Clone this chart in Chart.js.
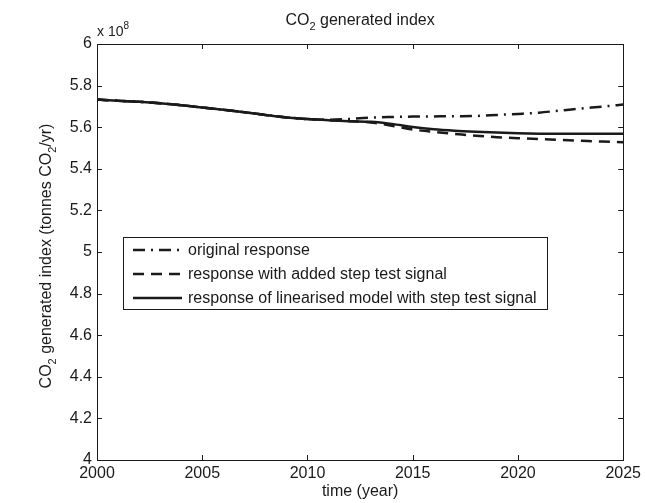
<!DOCTYPE html>
<html>
<head>
<meta charset="utf-8">
<title>CO2 generated index</title>
<script src="https://cdn.jsdelivr.net/npm/chart.js@4.4.1/dist/chart.umd.min.js"></script>
<style>
    html, body { margin: 0; padding: 0; background: #fff; }
    #co2-chart { display: block; }
</style>
</head>
<body>
<canvas id="co2-chart" width="645" height="503"></canvas>
<script>
// values in units of 10^8 tonnes CO2 / yr
const years = [2000, 2001, 2002, 2003, 2004, 2005, 2006, 2007, 2008, 2009, 2010, 2011, 2012,
    2013, 2014, 2015, 2016, 2017, 2018, 2019, 2020, 2021, 2022, 2023, 2024, 2025];
const originalResponse = [5.733, 5.727, 5.722, 5.715, 5.706, 5.695, 5.684, 5.672, 5.659, 5.647, 5.639, 5.636, 5.640,
    5.646, 5.649, 5.651, 5.652, 5.653, 5.654, 5.659, 5.664, 5.670, 5.680, 5.690, 5.699, 5.709];
const stepResponse = [5.733, 5.727, 5.722, 5.715, 5.706, 5.695, 5.684, 5.672, 5.659, 5.647, 5.639, 5.634, 5.629,
    5.623, 5.607, 5.589, 5.577, 5.568, 5.559, 5.552, 5.547, 5.543, 5.539, 5.535, 5.531, 5.528];
const linearisedResponse = [5.733, 5.727, 5.722, 5.715, 5.706, 5.695, 5.684, 5.672, 5.659, 5.647, 5.639, 5.634, 5.629,
    5.626, 5.616, 5.601, 5.590, 5.583, 5.578, 5.574, 5.571, 5.569, 5.568, 5.568, 5.569, 5.569];
const seriesLabels = [
    'original response',
    'response with added step test signal',
    'response of linearised model with step test signal'
];
const xTicks = [2000, 2005, 2010, 2015, 2020, 2025];
const yTicks = [4, 4.2, 4.4, 4.6, 4.8, 5, 5.2, 5.4, 5.6, 5.8, 6];

const FONT = "'Liberation Sans', Arial, Helvetica, sans-serif";
const INK = '#1a1a1a';

function toPoints(values) {
    return years.map((y, i) => ({ x: y, y: values[i] }));
}

// draws text made of parts, some of them subscript / superscript
function drawParts(ctx, parts, x, y, size, align) {
    const small = Math.round(size * 0.7);
    let total = 0;
    parts.forEach(p => {
        ctx.font = (p.sub || p.sup ? small : size) + 'px ' + FONT;
        p.w = ctx.measureText(p.t).width;
        total += p.w;
    });
    let cx = align === 'center' ? x - total / 2 : x;
    parts.forEach(p => {
        ctx.font = (p.sub || p.sup ? small : size) + 'px ' + FONT;
        let dy = 0;
        if (p.sub) dy = size * 0.32;
        if (p.sup) dy = -size * 0.5;
        ctx.fillText(p.t, cx, y + dy);
        cx += p.w;
    });
}

const framePlugin = {
    id: 'frame',
    afterDatasetsDraw(chart) {
        const { ctx, chartArea: a, scales } = chart;
        ctx.save();
        ctx.strokeStyle = INK;
        ctx.lineWidth = 1;
        ctx.strokeRect(Math.round(a.left) + 0.5, Math.round(a.top) + 0.5,
            Math.round(a.right - a.left), Math.round(a.bottom - a.top));
        ctx.beginPath();
        xTicks.forEach(t => {
            const px = Math.round(scales.x.getPixelForValue(t)) + 0.5;
            ctx.moveTo(px, a.bottom); ctx.lineTo(px, a.bottom - 5);
            ctx.moveTo(px, a.top); ctx.lineTo(px, a.top + 5);
        });
        yTicks.forEach(t => {
            const py = Math.round(scales.y.getPixelForValue(t)) + 0.5;
            ctx.moveTo(a.left, py); ctx.lineTo(a.left + 5, py);
            ctx.moveTo(a.right, py); ctx.lineTo(a.right - 5, py);
        });
        ctx.stroke();
        ctx.restore();
    },
    afterDraw(chart) {
        const { ctx, chartArea: a } = chart;
        ctx.save();
        ctx.fillStyle = INK;
        ctx.textBaseline = 'alphabetic';

        // title
        drawParts(ctx, [{ t: 'CO' }, { t: '2', sub: true }, { t: ' generated index' }],
            (a.left + a.right) / 2, 25, 16, 'center');

        // multiplier
        drawParts(ctx, [{ t: 'x 10' }, { t: '8', sup: true }], a.left, 36, 14, 'left');

        // y axis title
        ctx.translate(51, 256);
        ctx.rotate(-Math.PI / 2);
        drawParts(ctx, [{ t: 'CO' }, { t: '2', sub: true }, { t: ' generated index (tonnes CO' },
            { t: '2', sub: true }, { t: '/yr)' }], 0, 0, 16, 'center');
        ctx.restore();

        // legend box
        ctx.save();
        ctx.font = '16px ' + FONT;
        let textW = 0;
        seriesLabels.forEach(l => { textW = Math.max(textW, ctx.measureText(l).width); });
        const bx = a.left + 26, by = a.top + 193;
        const bw = Math.max(424, 65 + textW + 7), bh = 72;
        ctx.fillStyle = '#fff';
        ctx.fillRect(bx, by, bw, bh);
        ctx.strokeStyle = INK;
        ctx.lineWidth = 1;
        ctx.strokeRect(Math.round(bx) + 0.5, Math.round(by) + 0.5, Math.round(bw), bh);
        chart.data.datasets.forEach((ds, i) => {
            const ry = by + 13 + i * 24;
            ctx.strokeStyle = ds.borderColor;
            ctx.lineWidth = ds.borderWidth;
            ctx.setLineDash(ds.borderDash || []);
            ctx.beginPath();
            ctx.moveTo(bx + 10, ry);
            ctx.lineTo(bx + 59, ry);
            ctx.stroke();
            ctx.setLineDash([]);
            ctx.fillStyle = INK;
            ctx.textBaseline = 'middle';
            ctx.fillText(ds.label, bx + 65, ry + 1);
        });
        ctx.restore();
    }
};

const lineStyle = {
    borderColor: INK,
    borderWidth: 2.5,
    pointRadius: 0,
    fill: false,
    cubicInterpolationMode: 'monotone'
};

new Chart(document.getElementById('co2-chart'), {
    type: 'line',
    data: {
        datasets: [
            Object.assign({ label: seriesLabels[0], data: toPoints(originalResponse), borderDash: [12, 6, 2, 6] }, lineStyle),
            Object.assign({ label: seriesLabels[1], data: toPoints(stepResponse), borderDash: [11, 7] }, lineStyle),
            Object.assign({ label: seriesLabels[2], data: toPoints(linearisedResponse) }, lineStyle)
        ]
    },
    options: {
        responsive: false,
        animation: false,
        layout: { padding: { top: 44, right: 18.5, left: 0, bottom: 0 } },
        plugins: {
            legend: { display: false },
            tooltip: { enabled: false }
        },
        scales: {
            x: {
                type: 'linear',
                min: 2000,
                max: 2025,
                afterBuildTicks: scale => { scale.ticks = xTicks.map(v => ({ value: v })); },
                afterFit: scale => { scale.height = 43; },
                grid: { display: false, drawTicks: false },
                border: { display: false },
                ticks: {
                    color: INK,
                    padding: 4,
                    maxRotation: 0,
                    font: { family: FONT, size: 16 },
                    callback: v => String(v)
                },
                title: {
                    display: true,
                    text: 'time (year)',
                    color: INK,
                    font: { family: FONT, size: 16 },
                    padding: { top: 0, bottom: 2 }
                }
            },
            y: {
                min: 4,
                max: 6,
                afterBuildTicks: scale => { scale.ticks = yTicks.map(v => ({ value: v })); },
                afterFit: scale => { scale.width = 97; },
                grid: { display: false, drawTicks: false },
                border: { display: false },
                ticks: {
                    color: INK,
                    padding: 5,
                    font: { family: FONT, size: 16 },
                    callback: v => String(Number(v.toFixed(1)))
                }
            }
        }
    },
    plugins: [framePlugin]
});
</script>
</body>
</html>
